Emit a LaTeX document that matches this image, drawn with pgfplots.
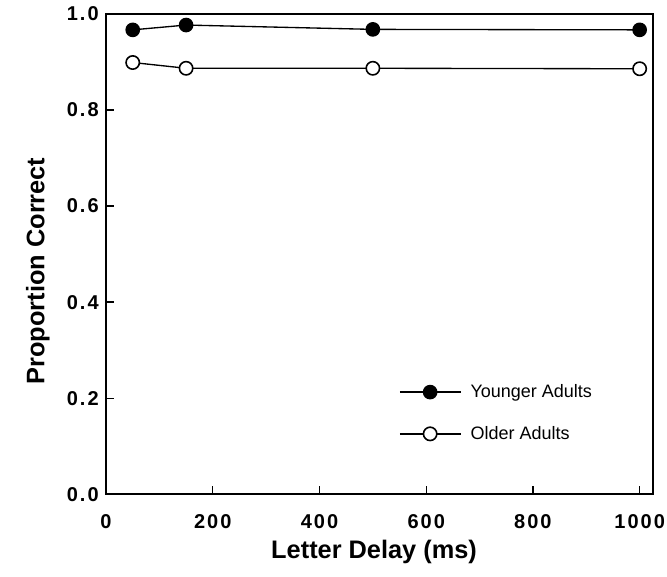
\documentclass[border=0pt]{standalone}
\usepackage{pgfplots}
\pgfplotsset{compat=1.18}
\usepackage{fontspec}
\setmainfont{Liberation Sans}
\newfontfamily\tickfont[LetterSpace=10]{Liberation Sans Bold}
\begin{document}
\begin{tikzpicture}
\useasboundingbox (-79.5pt,-61.5pt) rectangle (420.5pt,370.5pt);
\begin{axis}[
  name=ax,
  at={(0,0)}, anchor=south west,
  scale only axis,
  width=410pt, height=360pt,
  xmin=0, xmax=1025, ymin=0, ymax=1.0,
  axis line style={line width=1.4pt},
  xtick={0,200,400,600,800,1000},
  ytick={0,0.2,0.4,0.6,0.8,1.0},
  yticklabels={0.0,0.2,0.4,0.6,0.8,1.0},
  xticklabels={0,200,400,600,800,1000},
  tick align=inside,
  xtick pos=bottom, ytick pos=left,
  major tick length=6pt,
  tick style={line width=1pt, black},
  ticklabel style={font=\tickfont\fontsize{15}{17}\selectfont},
  xticklabel style={yshift=-12pt},
  yticklabel style={xshift=-2pt},
  xlabel={Letter Delay (ms)},
  ylabel={Proportion Correct},
  label style={font=\bfseries\fontsize{19}{22}\selectfont},
  xlabel style={at={(ticklabel cs:0.49)}, yshift=-1pt},
  ylabel style={at={(ticklabel cs:0.465)}, yshift=6pt},
  legend style={draw=none, fill=none, at={(0.528,0.24)}, anchor=north west,
    font=\fontsize{13.5}{16}\selectfont, row sep=16pt,
    /tikz/every odd column/.append style={column sep=5pt}},
  legend cell align=left,
  legend image code/.code={\draw[mark repeat=2,mark phase=2,#1] plot coordinates {(0cm,0cm) (0.8cm,0cm) (1.6cm,0cm)};},
]
\addplot[black, line width=1pt, mark=*, mark size=5pt, mark options={fill=black}]
  coordinates {(50,0.967) (150,0.977) (500,0.968) (1000,0.967)};
\addlegendentry{Younger Adults}
\addplot[black, line width=1pt, mark=*, mark size=5pt, mark options={fill=white, line width=1.2pt}]
  coordinates {(50,0.899) (150,0.887) (500,0.887) (1000,0.886)};
\addlegendentry{Older Adults}
\end{axis}
\end{tikzpicture}
\end{document}
